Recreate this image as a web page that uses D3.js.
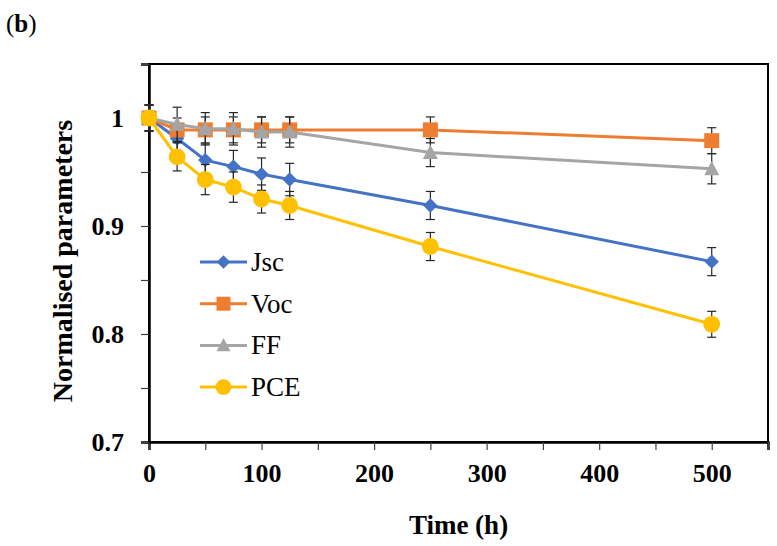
<!DOCTYPE html>
<html>
<head>
<meta charset="utf-8">
<script src="https://cdn.jsdelivr.net/npm/d3@7"></script>
<style>
  body { margin: 0; background: #fff; }
  svg { display: block; }
  text { font-family: "Liberation Serif", "Times New Roman", serif; fill: #000; }
</style>
</head>
<body>
<div id="chart"></div>
<script>
// data
const timeH = [0, 25, 50, 75, 100, 125, 250, 500];

const jscVals = [1, 0.981, 0.961, 0.955, 0.948, 0.943, 0.919, 0.867];
const vocVals = [1, 0.989, 0.989, 0.989, 0.989, 0.989, 0.989, 0.979];
const ffVals  = [1, 0.994, 0.990, 0.990, 0.987, 0.987, 0.968, 0.953];
const pceVals = [1, 0.964, 0.943, 0.936, 0.925, 0.919, 0.881, 0.809];

const jscErr = [0.012, 0.012, 0.015, 0.015, 0.015, 0.015, 0.013, 0.013];
const vocErr = [0.012, 0.011, 0.012, 0.012, 0.012, 0.012, 0.012, 0.012];
const ffErr  = [0.012, 0.016, 0.015, 0.015, 0.014, 0.014, 0.013, 0.014];
const pceErr = [0.012, 0.013, 0.014, 0.014, 0.013, 0.013, 0.013, 0.012];

const seriesNames = ['Jsc', 'Voc', 'FF', 'PCE'];
const seriesColours = ['#4472C4', '#ED7D31', '#A5A5A5', '#FFC000'];
const seriesShapes = ['diamond', 'square', 'triangle', 'circle'];

const xTicks = [0, 50, 100, 150, 200, 250, 300, 350, 400, 450, 500, 550];
const xLabels = [0, 100, 200, 300, 400, 500];
const yTicks = [0.7, 0.75, 0.8, 0.85, 0.9, 0.95, 1, 1.05];
const yLabels = [0.7, 0.8, 0.9, 1];

const series = seriesNames.map((name, i) => ({
    name: name,
    colour: seriesColours[i],
    shape: seriesShapes[i],
    vals: [jscVals, vocVals, ffVals, pceVals][i],
    errs: [jscErr, vocErr, ffErr, pceErr][i]
}));

// layout
const W = 777, H = 546;
const margin = {left: 149, right: 9, top: 64, bottom: 104};
const width = W - margin.left - margin.right;
const height = H - margin.top - margin.bottom;

const svg = d3.select('#chart').append('svg')
    .attr('width', W)
    .attr('height', H);

svg.append('text')
    .attr('x', 6).attr('y', 32)
    .style('font-size', '25px')
    .html('(<tspan font-weight="bold">b</tspan>)');

const g = svg.append('g')
    .attr('transform', `translate(${margin.left}, ${margin.top})`);

const x = d3.scaleLinear().domain([0, 550]).range([0, width]);
const y = d3.scaleLinear().domain([0.7, 1.05]).range([height, 0]);

// plot border
g.append('rect')
    .attr('width', width).attr('height', height)
    .attr('fill', 'none').attr('stroke', '#000').attr('stroke-width', 2);

// axes
const xAxis = g.append('g')
    .attr('transform', `translate(0, ${height})`)
    .call(d3.axisBottom(x).tickValues(xTicks).tickSize(8).tickPadding(14)
        .tickFormat(d => xLabels.includes(d) ? d : ''));
const yAxis = g.append('g')
    .call(d3.axisLeft(y).tickValues(yTicks).tickSize(8).tickPadding(17)
        .tickFormat(d => yLabels.some(v => Math.abs(v - d) < 1e-9) ? d3.format('~g')(d) : ''));

[xAxis, yAxis].forEach(a => {
    a.select('.domain').attr('stroke', '#000').attr('stroke-width', 2.5);
    a.selectAll('.tick line').attr('stroke', '#404040').attr('stroke-width', 1.2);
    a.selectAll('.tick text')
        .style('font-family', '"Liberation Serif", "Times New Roman", serif')
        .style('font-size', '26px')
        .style('font-weight', 'bold')
        .attr('fill', '#000');
});

// axis titles
svg.append('text')
    .attr('x', margin.left + width / 2).attr('y', 534)
    .attr('text-anchor', 'middle')
    .style('font-size', '27px').style('font-weight', 'bold')
    .text('Time (h)');
svg.append('text')
    .attr('transform', `translate(72, ${margin.top + height / 2 + 8}) rotate(-90)`)
    .attr('text-anchor', 'middle')
    .style('font-size', '28px').style('font-weight', 'bold')
    .text('Normalised parameters');

// marker drawing helper
function marker(sel, shape, colour, s) {
    if (shape === 'circle') {
        sel.append('circle').attr('r', s * 0.56).attr('fill', colour);
    } else if (shape === 'square') {
        sel.append('rect').attr('x', -s / 2).attr('y', -s / 2)
            .attr('width', s).attr('height', s).attr('fill', colour);
    } else if (shape === 'diamond') {
        const h = s * 0.48;
        sel.append('path').attr('d', `M0,${-h}L${h},0L0,${h}L${-h},0Z`).attr('fill', colour);
    } else {
        const h = s * 0.5;
        sel.append('path').attr('d', `M0,${-h * 1.05}L${h},${h * 0.85}L${-h},${h * 0.85}Z`).attr('fill', colour);
    }
}

const line = d3.line()
    .x((d, i) => x(timeH[i]))
    .y(d => y(d));

const capW = 4.5;
series.forEach(s => {
    const sg = g.append('g');
    // error bars
    const eb = sg.append('g').selectAll('g')
        .data(s.vals.map((v, i) => ({t: timeH[i], v: v, e: s.errs[i]})))
        .enter().append('g')
        .attr('stroke', '#262626').attr('stroke-width', 1.2);
    eb.append('line')
        .attr('x1', d => x(d.t)).attr('x2', d => x(d.t))
        .attr('y1', d => y(d.v - d.e)).attr('y2', d => y(d.v + d.e));
    eb.append('line')
        .attr('x1', d => x(d.t) - capW).attr('x2', d => x(d.t) + capW)
        .attr('y1', d => y(d.v + d.e)).attr('y2', d => y(d.v + d.e));
    eb.append('line')
        .attr('x1', d => x(d.t) - capW).attr('x2', d => x(d.t) + capW)
        .attr('y1', d => y(d.v - d.e)).attr('y2', d => y(d.v - d.e));

    sg.append('path')
        .datum(s.vals)
        .attr('d', line)
        .attr('fill', 'none')
        .attr('stroke', s.colour)
        .attr('stroke-width', 3);

    sg.append('g').selectAll('g')
        .data(s.vals)
        .enter().append('g')
        .attr('transform', (d, i) => `translate(${x(timeH[i])}, ${y(d)})`)
        .each(function() { marker(d3.select(this), s.shape, s.colour, 15); });
});

// legend
const legend = svg.append('g').attr('transform', 'translate(200, 262)');
const rows = legend.selectAll('g')
    .data(series)
    .enter().append('g')
    .attr('transform', (d, i) => `translate(0, ${i * 41.7})`);
rows.append('line')
    .attr('x1', 0).attr('x2', 47)
    .attr('stroke', d => d.colour).attr('stroke-width', 3);
rows.each(function(d) {
    const m = d3.select(this).append('g').attr('transform', 'translate(23.5, 0)');
    marker(m, d.shape, d.colour, 14);
});
rows.append('text')
    .attr('x', 51).attr('y', 9)
    .style('font-size', '27px')
    .text(d => d.name);
</script>
</body>
</html>
